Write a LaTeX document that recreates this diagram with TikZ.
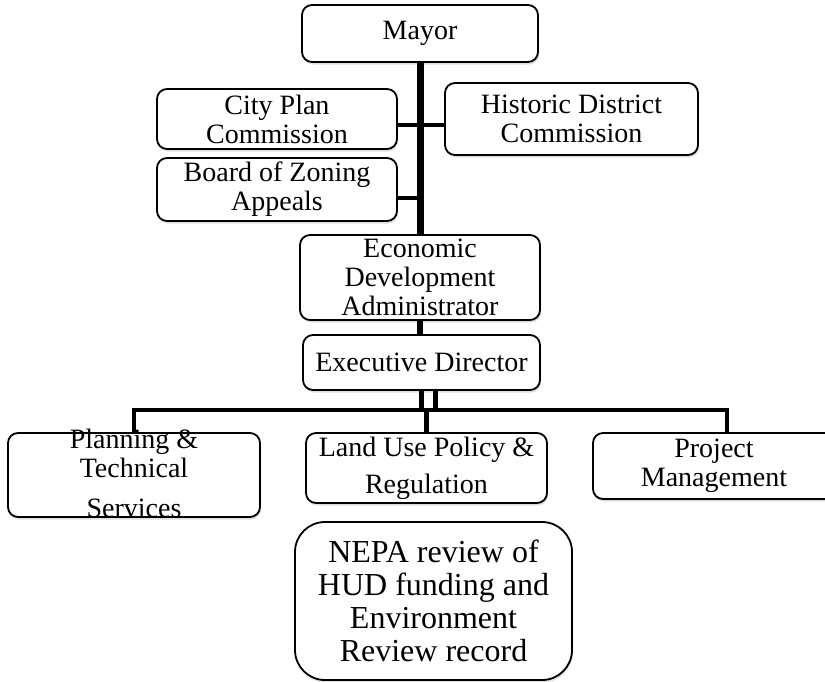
\documentclass[tikz,border=0pt]{standalone}
\usepackage{fontspec}
\setmainfont{Liberation Serif}
\usetikzlibrary{shadows}

\begin{document}
\begin{tikzpicture}[
        x=1pt, y=-1pt,
        every node/.style={font=\fontsize{28}{29}\selectfont, align=center},
        box/.style={rectangle, draw=black, line width=1.8pt, rounded corners=10pt, fill=white, inner sep=0pt,
            drop shadow={shadow xshift=1pt, shadow yshift=-2.5pt, opacity=0.25}},
        trunk/.style={line width=7pt, black},
        branch/.style={line width=4.5pt, black}
    ]
    \clip (0,0) rectangle (825,681);
    \node[box, minimum width=236, minimum height=57] (mayor) at (420, 33.5)  {Mayor};
    \node[box, minimum width=240, minimum height=60] (cpc)   at (277, 119)   {City Plan\\Commission};
    \node[box, minimum width=253, minimum height=72] (hdc)   at (571.5, 119) {Historic District\\Commission};
    \node[box, minimum width=240, minimum height=63] (bza)   at (277, 189.5) {Board of Zoning\\Appeals};
    \node[box, minimum width=240, minimum height=85] (eda)   at (420, 277.5) {Economic\\Development\\Administrator};
    \node[box, minimum width=237, minimum height=55] (ed)    at (421.5, 362.5) {Executive Director};
    \node[box, minimum width=252, text height=84pt, text depth=0pt] (pts) at (134, 475)
        {Planning \&\\Technical\\[11pt]Services};
    \node[box, minimum width=241, minimum height=70] (lupr)  at (426.5, 468) {Land Use Policy \&\\[8pt]Regulation};
    \node[box, minimum width=242, minimum height=66] (pm)    at (714, 466)   {Project\\Management};
    \node[box, minimum width=277, minimum height=158, rounded corners=30pt,
        font=\fontsize{32}{33}\selectfont] (nepa) at (433.5, 601)
        {NEPA review of\\HUD funding and\\Environment\\Review record};
    % mayor line and boards
    \draw[trunk] (mayor.south) -- (mayor.south |- eda.north);
    \draw[branch] ([yshift=-6pt]cpc.east) -- ([yshift=-6pt]cpc.east -| hdc.west);
    \draw[branch] ([yshift=-8.5pt]bza.east) -- ([yshift=-8.5pt]bza.east -| mayor.south);
    \draw[trunk, line width=6pt] (eda.south) -- (eda.south |- ed.north);
    % divisions
    \coordinate (bus) at (0, 410);
    \coordinate (pmdrop) at ([xshift=13pt]pm.north);
    \coordinate (edside) at ([xshift=14pt]ed.south);
    \draw[branch] (ed.south) -- (ed.south |- bus);
    \draw[branch] (edside) -- (edside |- bus);
    \draw[branch] (pts.north) |- (pmdrop |- bus) -- (pmdrop);
    \draw[branch] (lupr.north) -- (lupr.north |- bus);
\end{tikzpicture}
\end{document}
